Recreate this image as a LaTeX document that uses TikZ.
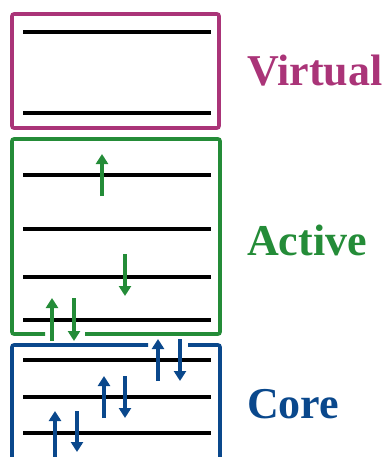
\documentclass[tikz,border=0pt]{standalone}
\usepackage{fontspec}
\setmainfont{Liberation Serif}
\usetikzlibrary{arrows.meta}
\definecolor{vcol}{RGB}{170,52,120}
\definecolor{acol}{RGB}{36,140,56}
\definecolor{ccol}{RGB}{10,72,140}
\begin{document}
\begin{tikzpicture}[x=1pt,y=-1pt,
 level/.style={line width=3.6pt,black},
 box/.style={line width=3.6pt,rounded corners=2pt},
 spin/.style={line width=3.6pt,-{Triangle[width=12pt,length=10pt]}},
 lab/.style={font=\bfseries\fontsize{44}{44}\selectfont,anchor=base west,inner sep=0pt}]
\useasboundingbox (0,0) rectangle (387,457);
\clip (0,0) rectangle (387,457);
% Virtual
\draw[box,vcol] (12,14) rectangle (219,128);
\draw[level] (23,32) -- (211,32);
\draw[level] (23,113) -- (211,113);
% Active
\draw[box,acol] (45,334) -- (12,334) -- (12,139) -- (220,139) -- (220,334) -- (85,334);
\foreach \y in {175,229,277,320} \draw[level] (23,\y) -- (211,\y);
\draw[spin,acol] (102,196) -- (102,154);
\draw[spin,acol] (125,254) -- (125,296);
\draw[spin,acol] (52,341) -- (52,298);
\draw[spin,acol] (74,298) -- (74,341);
% Core
\draw[box,ccol] (148,345) -- (12,345) -- (12,470);
\draw[box,ccol] (188,345) -- (220,345) -- (220,470);
\foreach \y in {360,397,433} \draw[level] (23,\y) -- (211,\y);
\draw[spin,ccol] (158,381) -- (158,339);
\draw[spin,ccol] (180,339) -- (180,381);
\draw[spin,ccol] (104,418) -- (104,376);
\draw[spin,ccol] (125,376) -- (125,418);
\draw[spin,ccol] (55,460) -- (55,411);
\draw[spin,ccol] (77,411) -- (77,452);
% labels
\node[lab,text=vcol] (lv) at (247,86) {Virtual};
\node[lab,text=acol] (la) at (247,255) {Active};
\node[lab,text=ccol] (lc) at (247,418) {Core};
\end{tikzpicture}
\end{document}
